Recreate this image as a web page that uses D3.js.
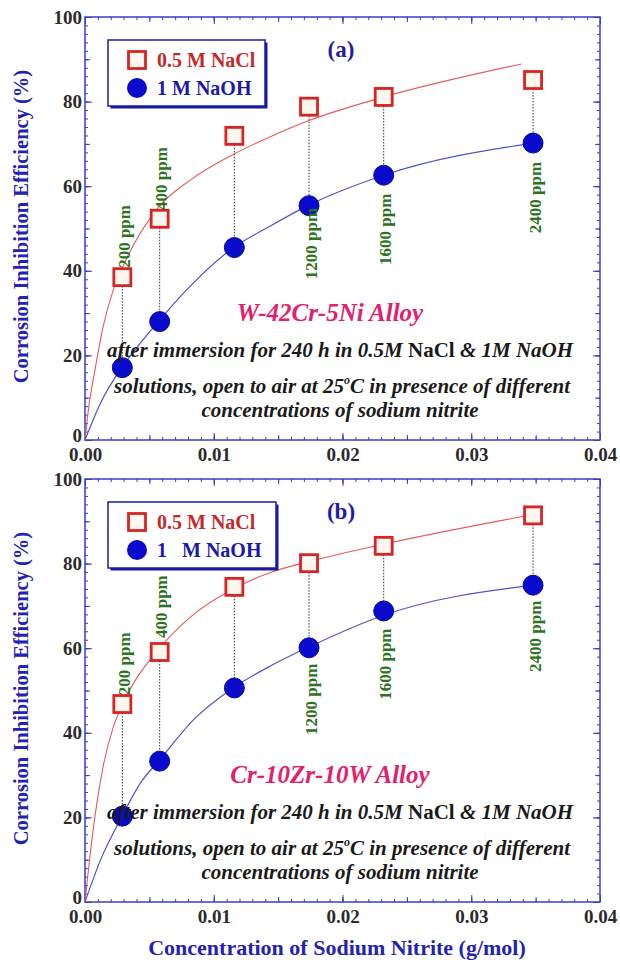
<!DOCTYPE html>
<html>
<head>
<meta charset="utf-8">
<script src="https://cdn.jsdelivr.net/npm/d3@7"></script>
<style>
  body { margin: 0; background: #fff; }
  svg text { font-family: "Liberation Serif", "Times New Roman", serif; font-weight: bold; }
</style>
</head>
<body>
<div class="chart"></div>
<script>
// sodium nitrite concentration for each dose
const conc = [0.0029, 0.0058, 0.0116, 0.0174, 0.0232, 0.0348];
const ppmLabels = ["200 ppm", "400 ppm", "", "1200 ppm", "1600 ppm", "2400 ppm"];

// (a) W-42Cr-5Ni alloy
const naclA = [38.5, 52.3, 71.9, 78.8, 81.1, 85.1];
const naohA = [17.1, 28.0, 45.5, 55.4, 62.6, 70.2];
// (b) Cr-10Zr-10W alloy
const naclB = [46.8, 59.1, 74.5, 80.1, 84.2, 91.4];
const naohB = [20.3, 33.3, 50.6, 60.1, 68.8, 74.9];

// fitted curves as [conc, efficiency]
const fitNaclA = [[0, 0], [0.0003, 8], [0.0008, 17], [0.0014, 26.7], [0.0022, 35.5], [0.0029, 40.7],
                  [0.0057, 55], [0.0082, 61.5], [0.0115, 67.5], [0.0144, 71.7], [0.0173, 75.4],
                  [0.0231, 81], [0.0339, 88.9]];
const fitNaohA = [[0, 0], [0.0012, 8.7], [0.0029, 17.3], [0.0043, 22.9], [0.0058, 28.4], [0.0084, 37.1],
                  [0.0115, 45.4], [0.0144, 50.6], [0.0173, 55.4], [0.0232, 62.6], [0.0348, 70.2]];
const fitNaclB = [[0, 0], [0.0006, 16.3], [0.0014, 31.9], [0.0022, 41.4], [0.0029, 46.6], [0.0058, 60],
                  [0.0082, 67.4], [0.0115, 74], [0.0144, 77.9], [0.0174, 80.5], [0.0232, 84.6],
                  [0.0348, 91.6]];
const fitNaohB = [[0, 0], [0.0012, 9.9], [0.0029, 20.4], [0.0043, 28.1], [0.0058, 33.6], [0.0084, 43],
                  [0.0115, 50.6], [0.0144, 55.8], [0.0174, 60.3], [0.0232, 67.8], [0.0348, 74.9]];

const xTicks = [0, 0.01, 0.02, 0.03, 0.04];
const yTicks = [0, 20, 40, 60, 80, 100];

const w = 620;
const h = 963;
const left = 85, right = 600;

const blue = "#3c3cc8";
const red = "#d82424";

const svg = d3.select(".chart").append("svg")
              .attr("width", w)
              .attr("height", h);

// labelAt: where each vertical ppm label starts, in % units
const panels = [
  { top: 17, bottom: 440, tag: "(a)", alloy: "W-42Cr-5Ni Alloy", nacl: naclA, naoh: naohA,
    fitNacl: fitNaclA, fitNaoh: fitNaohA, naohName: "1 M NaOH", legendW: 157,
    labelAt: [40.7, 54.4, 0, 38.0, 41.4, 48.9] },
  { top: 479, bottom: 902, tag: "(b)", alloy: "Cr-10Zr-10W Alloy", nacl: naclB, naoh: naohB,
    fitNacl: fitNaclB, fitNaoh: fitNaohB, naohName: "1\u00a0\u00a0\u00a0M NaOH", legendW: 168,
    labelAt: [48.9, 62.4, 0, 39.5, 47.8, 54.4] }
];

panels.forEach(p => drawPanel(p));

function drawPanel(p) {
    const g = svg.append("g");

    const xScale = d3.scaleLinear().domain([0, 0.04]).range([left, right]);
    const yScale = d3.scaleLinear().domain([0, 100]).range([p.bottom, p.top]);

    // minor / major ticks, all pointing inward
    const minorX = d3.range(0, 41).map(i => i / 1000);
    const midX = d3.range(0, 9).map(i => i * 0.005);
    const minorY = d3.range(0, 51).map(i => i * 2);
    const midY = d3.range(0, 11).map(i => i * 10);

    function tickSet(axisFn, scale, values, size, pos) {
        const ax = axisFn(scale).tickValues(values).tickSizeInner(-size).tickSizeOuter(0).tickFormat("");
        const a = g.append("g").attr("transform", pos).call(ax);
        a.select(".domain").remove();
        a.selectAll("line").attr("stroke", blue).attr("stroke-width", 1);
    }

    const bx = `translate(0,${p.bottom})`, tx = `translate(0,${p.top})`;
    const ly = `translate(${left},0)`, ry = `translate(${right},0)`;
    tickSet(d3.axisBottom, xScale, minorX, 3, bx);
    tickSet(d3.axisBottom, xScale, midX, 5, bx);
    tickSet(d3.axisTop, xScale, minorX, 3, tx);
    tickSet(d3.axisTop, xScale, midX, 5, tx);
    tickSet(d3.axisLeft, yScale, minorY, 3, ly);
    tickSet(d3.axisLeft, yScale, midY, 5, ly);
    tickSet(d3.axisRight, yScale, minorY, 3, ry);
    tickSet(d3.axisRight, yScale, midY, 5, ry);
    tickSet(d3.axisTop, xScale, xTicks, 7, tx);
    tickSet(d3.axisRight, yScale, yTicks, 7, ry);

    const xa = g.append("g").attr("transform", bx)
                .call(d3.axisBottom(xScale).tickValues(xTicks).tickSizeInner(-7).tickSizeOuter(0)
                        .tickPadding(8).tickFormat(d3.format(".2f")));
    const ya = g.append("g").attr("transform", ly)
                .call(d3.axisLeft(yScale).tickValues(yTicks).tickSizeInner(-7).tickSizeOuter(0)
                        .tickPadding(3).tickFormat(d3.format("d")));
    [xa, ya].forEach(a => {
        a.select(".domain").remove();
        a.selectAll("line").attr("stroke", blue);
        a.selectAll("text").attr("font-size", 19).attr("fill", "#2b2b2b")
         .attr("font-family", "'Liberation Serif', serif").attr("font-weight", "bold");
    });
    ya.selectAll("text").filter(d => d === 0).attr("dy", "0.1em");

    // frame
    g.append("rect")
     .attr("x", left).attr("y", p.top)
     .attr("width", right - left).attr("height", p.bottom - p.top)
     .attr("fill", "none").attr("stroke", blue).attr("stroke-width", 1.5);

    // y title
    g.append("text")
     .attr("transform", `translate(28,${(p.top + p.bottom) / 2 - 2}) rotate(-90)`)
     .attr("text-anchor", "middle")
     .attr("font-size", 20.5)
     .attr("fill", "#2222b4")
     .text("Corrosion Inhibition Efficiency (%)");

    // drop lines between the two solutions
    g.append("g").selectAll("line")
     .data(conc)
     .enter()
     .append("line")
     .attr("x1", d => xScale(d)).attr("x2", d => xScale(d))
     .attr("y1", (d, i) => yScale(p.nacl[i]))
     .attr("y2", (d, i) => yScale(p.naoh[i]))
     .attr("stroke", "#333")
     .attr("stroke-width", 1)
     .attr("stroke-dasharray", "1.5,1.5");

    const line = d3.line()
                   .x(d => xScale(d[0]))
                   .y(d => yScale(d[1]))
                   .curve(d3.curveMonotoneX);

    g.append("path").datum(p.fitNacl)
     .attr("d", line).attr("fill", "none")
     .attr("stroke", "#e65a5a").attr("stroke-width", 1.1);
    g.append("path").datum(p.fitNaoh)
     .attr("d", line).attr("fill", "none")
     .attr("stroke", "#5252cc").attr("stroke-width", 1.2);

    // markers
    g.append("g").selectAll("rect")
     .data(conc)
     .enter()
     .append("rect")
     .attr("x", d => xScale(d) - 8.5)
     .attr("y", (d, i) => yScale(p.nacl[i]) - 8.5)
     .attr("width", 17).attr("height", 17)
     .attr("fill", "#fff6ee")
     .attr("stroke", red)
     .attr("stroke-width", 2.8);

    g.append("g").selectAll("circle")
     .data(conc)
     .enter()
     .append("circle")
     .attr("cx", d => xScale(d))
     .attr("cy", (d, i) => yScale(p.naoh[i]))
     .attr("r", 10)
     .attr("fill", "#0a0acc")
     .attr("stroke", "#0a0a9a")
     .attr("stroke-width", 1);

    // ppm labels
    const labels = conc.map((c, i) => ({ c: c, text: ppmLabels[i], at: p.labelAt[i] }))
                       .filter(d => d.text !== "");
    g.append("g").selectAll("text")
     .data(labels)
     .enter()
     .append("text")
     .attr("transform", d => `translate(${xScale(d.c) + 2},${yScale(d.at)}) rotate(-90)`)
     .attr("dominant-baseline", "central")
     .attr("font-size", 17)
     .attr("fill", "#2d721c")
     .text(d => d.text);

    // legend
    const lg = g.append("g");
    const lx = 108, lyTop = p.top + 23, lw = p.legendW, lh = 66;
    lg.append("rect").attr("x", lx + 2.5).attr("y", lyTop + 2.5)
      .attr("width", lw).attr("height", lh).attr("fill", "#1a1aa0");
    lg.append("rect").attr("x", lx).attr("y", lyTop)
      .attr("width", lw).attr("height", lh)
      .attr("fill", "#fff").attr("stroke", "#1a1aa8").attr("stroke-width", 1.5);
    lg.append("rect").attr("x", lx + 20.5).attr("y", lyTop + 11.5)
      .attr("width", 17).attr("height", 17)
      .attr("fill", "#fff6ee").attr("stroke", red).attr("stroke-width", 2.8);
    lg.append("circle").attr("cx", lx + 29).attr("cy", lyTop + 48).attr("r", 10)
      .attr("fill", "#0a0acc");
    lg.append("text").attr("x", lx + 49).attr("y", lyTop + 27)
      .attr("font-size", 20).attr("fill", "#c42a2a").text("0.5 M NaCl");
    lg.append("text").attr("x", lx + 49).attr("y", lyTop + 55)
      .attr("font-size", 20).attr("fill", "#1a1aa8").text(p.naohName);

    // panel tag
    g.append("text").attr("x", 341).attr("y", p.top + 40)
     .attr("text-anchor", "middle").attr("font-size", 23)
     .attr("fill", "#1e1ea4").text(p.tag);

    // alloy and conditions
    g.append("text").attr("x", 330).attr("y", p.top + 304)
     .attr("text-anchor", "middle").attr("font-size", 25)
     .attr("font-style", "italic").attr("fill", "#e2206c").text(p.alloy);

    const l1 = g.append("text").attr("x", 340).attr("y", p.top + 340)
                .attr("text-anchor", "middle").attr("font-size", 21)
                .attr("font-style", "italic").attr("fill", "#1a1a1a");
    l1.append("tspan").text("after immersion for 240 h in 0.5M ");
    l1.append("tspan").attr("font-style", "normal").text("NaCl");
    l1.append("tspan").text(" & 1M NaOH");

    const l2 = g.append("text").attr("x", 342).attr("y", p.top + 376)
                .attr("text-anchor", "middle").attr("font-size", 21)
                .attr("font-style", "italic").attr("fill", "#1a1a1a");
    l2.append("tspan").text("solutions, open to air at 25");
    l2.append("tspan").attr("font-size", 12).attr("dy", -9).text("o");
    l2.append("tspan").attr("dy", 9).text("C in presence of different");

    g.append("text").attr("x", 340).attr("y", p.top + 400)
     .attr("text-anchor", "middle").attr("font-size", 21)
     .attr("font-style", "italic").attr("fill", "#1a1a1a")
     .text("concentrations of sodium nitrite");
}

// x title
svg.append("text")
   .attr("x", 337).attr("y", 955)
   .attr("text-anchor", "middle")
   .attr("font-size", 22)
   .attr("fill", "#2222b4")
   .text("Concentration of Sodium Nitrite (g/mol)");
</script>
</body>
</html>
